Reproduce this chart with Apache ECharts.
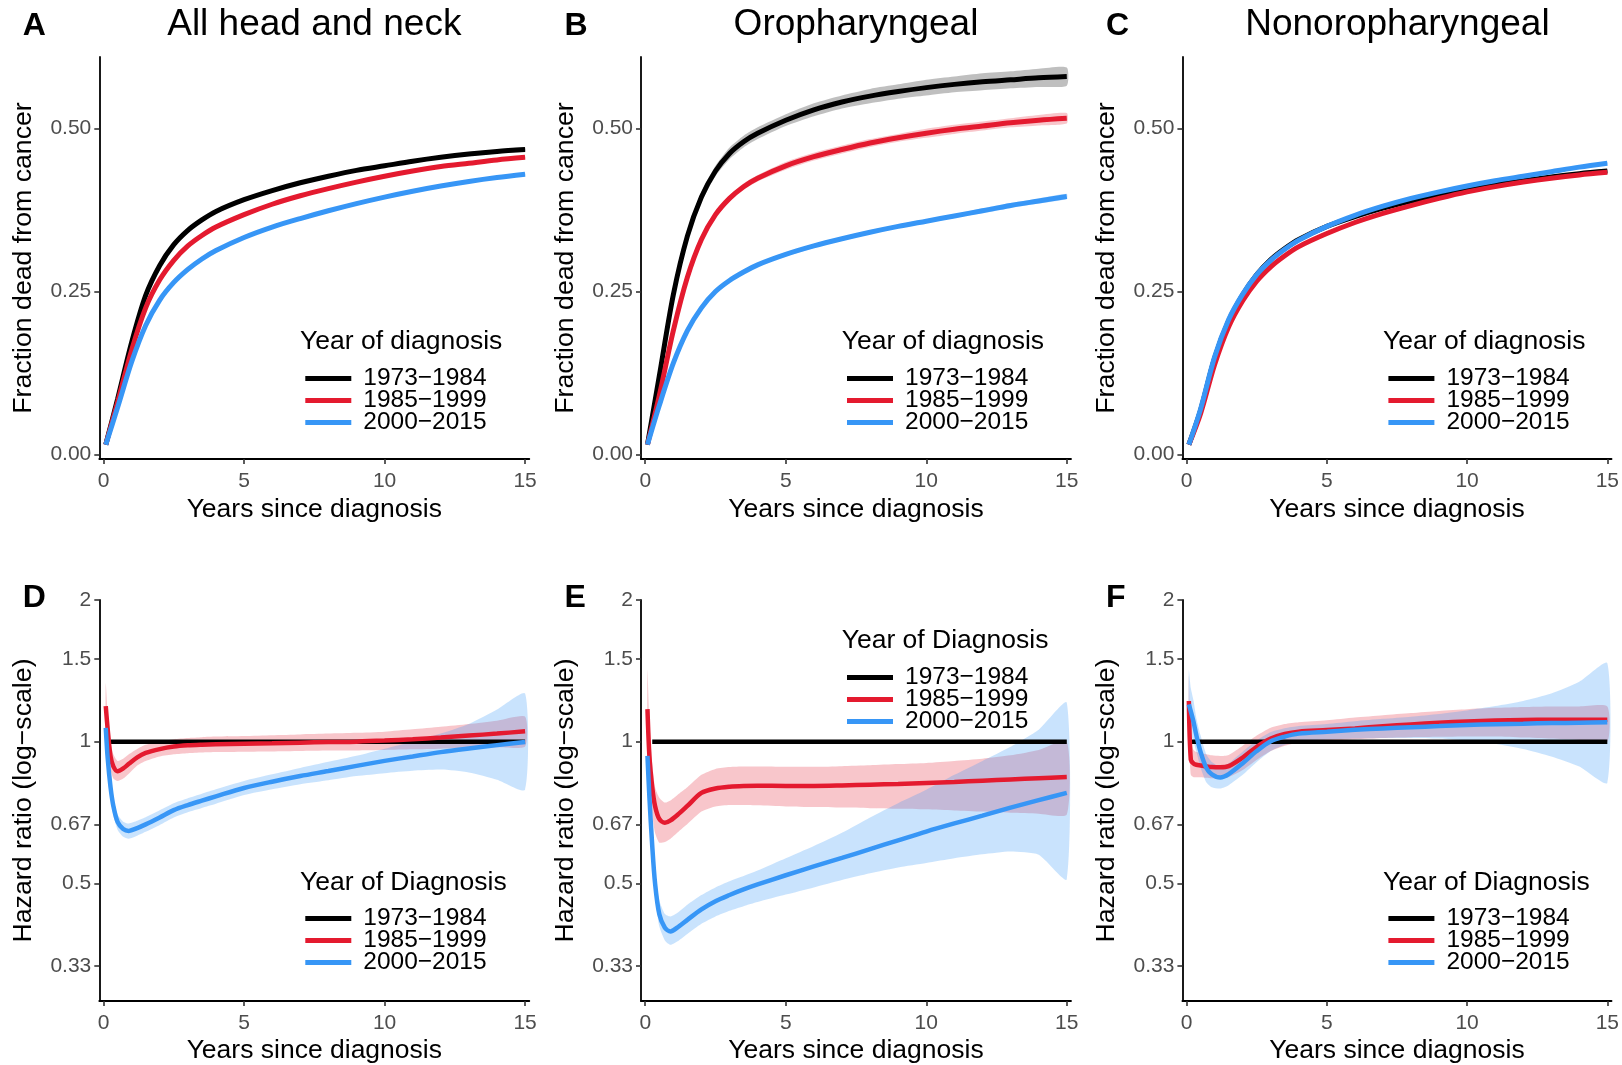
<!DOCTYPE html>
<html><head><meta charset="utf-8">
<script src="https://cdn.jsdelivr.net/npm/echarts@6/dist/echarts.min.js"></script>
<style>html,body{margin:0;padding:0;background:#fff}#c{width:1622px;height:1065px}</style>
</head><body><div id="c"></div>
<script>
// ---------- data ----------
const GROUPS = ['1973\u22121984', '1985\u22121999', '2000\u22122015'];
const COLORS = ['#000000', '#E41A2F', '#3796F6'];
const BAND_COLORS = ['rgba(0,0,0,0.25)', 'rgba(228,26,47,0.25)', 'rgba(55,150,246,0.27)'];

const X_TICKS = [0, 5, 10, 15];
const FRAC_TICKS = [0, 0.25, 0.5];
const HR_TICKS = [1/3, 0.5, 2/3, 1, 1.5, 2];
const HR_TICK_LABELS = ['0.33', '0.5', '0.67', '1', '1.5', '2'];

// top row: fraction dead from cancer
const TOP_X = [0.08, 0.5, 1, 1.5, 2, 2.5, 3, 3.5, 4, 5, 6, 7, 8, 9, 10, 11, 12, 13, 14, 15];

const A_1973 = [0.015, 0.085, 0.172, 0.244, 0.290, 0.322, 0.344, 0.360, 0.373, 0.391, 0.405, 0.417, 0.427, 0.436, 0.443, 0.450, 0.456, 0.461, 0.465, 0.468];
const A_1985 = [0.015, 0.080, 0.160, 0.225, 0.268, 0.298, 0.320, 0.336, 0.349, 0.368, 0.384, 0.397, 0.408, 0.418, 0.427, 0.435, 0.442, 0.447, 0.452, 0.456];
const A_2000 = [0.015, 0.072, 0.142, 0.198, 0.237, 0.264, 0.284, 0.300, 0.313, 0.333, 0.349, 0.362, 0.374, 0.385, 0.395, 0.404, 0.412, 0.419, 0.425, 0.430];
const A_1973_HW = [0.001, 0.002, 0.002, 0.002, 0.002, 0.002, 0.002, 0.002, 0.002, 0.002, 0.002, 0.002, 0.002, 0.002, 0.002, 0.0025, 0.0025, 0.003, 0.003, 0.003];
const A_1985_HW = [0.001, 0.0015, 0.0015, 0.0015, 0.0015, 0.0015, 0.0015, 0.0015, 0.0015, 0.0015, 0.0015, 0.0015, 0.0015, 0.002, 0.002, 0.002, 0.002, 0.002, 0.002, 0.002];
const A_2000_HW = [0.001, 0.0015, 0.0015, 0.0015, 0.0015, 0.0015, 0.0015, 0.0015, 0.0015, 0.0015, 0.0015, 0.0015, 0.0015, 0.0015, 0.0015, 0.0015, 0.002, 0.002, 0.002, 0.002];

const B_1973 = [0.015, 0.120, 0.245, 0.335, 0.395, 0.435, 0.462, 0.480, 0.493, 0.513, 0.529, 0.541, 0.550, 0.557, 0.563, 0.568, 0.572, 0.575, 0.578, 0.580];
const B_1985 = [0.015, 0.090, 0.190, 0.272, 0.330, 0.368, 0.393, 0.411, 0.424, 0.443, 0.457, 0.468, 0.478, 0.486, 0.493, 0.499, 0.504, 0.509, 0.513, 0.516];
const B_2000 = [0.015, 0.075, 0.140, 0.190, 0.225, 0.250, 0.267, 0.280, 0.291, 0.307, 0.320, 0.331, 0.341, 0.350, 0.358, 0.366, 0.374, 0.382, 0.389, 0.396];
const B_1973_HW = [0.001, 0.005, 0.007, 0.008, 0.008, 0.008, 0.009, 0.009, 0.009, 0.009, 0.010, 0.010, 0.011, 0.011, 0.012, 0.012, 0.013, 0.013, 0.014, 0.014];
const B_1985_HW = [0.001, 0.003, 0.004, 0.005, 0.005, 0.005, 0.005, 0.005, 0.005, 0.006, 0.006, 0.006, 0.006, 0.006, 0.007, 0.007, 0.007, 0.007, 0.008, 0.008];
const B_2000_HW = [0.001, 0.002, 0.002, 0.002, 0.002, 0.002, 0.002, 0.002, 0.003, 0.003, 0.003, 0.003, 0.003, 0.003, 0.003, 0.003, 0.004, 0.004, 0.004, 0.004];

const C_1973 = [0.015, 0.068, 0.148, 0.205, 0.245, 0.276, 0.299, 0.316, 0.330, 0.350, 0.365, 0.378, 0.389, 0.399, 0.407, 0.414, 0.420, 0.426, 0.431, 0.435];
const C_1985 = [0.015, 0.063, 0.138, 0.196, 0.236, 0.266, 0.288, 0.305, 0.319, 0.339, 0.356, 0.370, 0.382, 0.393, 0.403, 0.411, 0.418, 0.424, 0.429, 0.433];
const C_2000 = [0.015, 0.070, 0.150, 0.207, 0.246, 0.276, 0.298, 0.315, 0.329, 0.350, 0.367, 0.381, 0.393, 0.403, 0.412, 0.420, 0.427, 0.434, 0.441, 0.447];
const C_1973_HW = [0.001, 0.002, 0.002, 0.002, 0.002, 0.002, 0.002, 0.002, 0.002, 0.002, 0.002, 0.002, 0.0025, 0.0025, 0.0025, 0.003, 0.003, 0.003, 0.003, 0.003];
const C_1985_HW = [0.001, 0.0015, 0.0015, 0.0015, 0.0015, 0.0015, 0.0015, 0.0015, 0.0015, 0.0015, 0.0015, 0.002, 0.002, 0.002, 0.002, 0.002, 0.002, 0.002, 0.002, 0.002];
const C_2000_HW = [0.001, 0.0015, 0.0015, 0.0015, 0.0015, 0.0015, 0.0015, 0.0015, 0.0015, 0.0015, 0.0015, 0.0015, 0.0015, 0.0015, 0.002, 0.002, 0.002, 0.002, 0.002, 0.002];

// bottom row: hazard ratios vs 1973-1984
const BOT_X = [0.08, 0.15, 0.25, 0.35, 0.5, 0.7, 0.9, 1.2, 1.5, 2, 2.5, 3, 3.5, 4, 5, 6, 7, 8, 9, 10, 11, 12, 13, 14, 15];
const REF_X_D = [0.25, 15];
const REF_X_E = [0.25, 15];
const REF_X_F = [0.1, 15];
const REF_HR = [1, 1];

const D_1985    = [1.19, 1.06, 0.93, 0.886, 0.865, 0.877, 0.897, 0.926, 0.946, 0.964, 0.976, 0.982, 0.985, 0.987, 0.990, 0.992, 0.995, 0.998, 1.000, 1.005, 1.012, 1.020, 1.030, 1.040, 1.052];
const D_1985_LO = [1.07, 0.98, 0.87, 0.835, 0.825, 0.835, 0.855, 0.890, 0.910, 0.930, 0.940, 0.945, 0.948, 0.950, 0.952, 0.953, 0.955, 0.957, 0.958, 0.960, 0.963, 0.966, 0.970, 0.973, 0.977];
const D_1985_HI = [1.33, 1.15, 1.00, 0.940, 0.910, 0.920, 0.940, 0.965, 0.985, 1.000, 1.012, 1.018, 1.022, 1.025, 1.028, 1.032, 1.036, 1.040, 1.044, 1.050, 1.062, 1.075, 1.090, 1.108, 1.130];
const D_2000    = [1.07, 0.92, 0.80, 0.730, 0.675, 0.652, 0.646, 0.655, 0.667, 0.690, 0.715, 0.733, 0.749, 0.765, 0.797, 0.822, 0.845, 0.866, 0.888, 0.910, 0.930, 0.950, 0.967, 0.983, 0.998];
const D_2000_LO = [1.00, 0.87, 0.76, 0.700, 0.650, 0.628, 0.622, 0.631, 0.643, 0.665, 0.690, 0.708, 0.723, 0.738, 0.770, 0.792, 0.812, 0.828, 0.845, 0.857, 0.867, 0.872, 0.860, 0.830, 0.790];
const D_2000_HI = [1.14, 0.97, 0.84, 0.760, 0.700, 0.676, 0.670, 0.679, 0.691, 0.715, 0.740, 0.758, 0.775, 0.792, 0.825, 0.852, 0.879, 0.906, 0.933, 0.966, 1.000, 1.040, 1.090, 1.170, 1.265];

const E_1985    = [1.172, 0.93, 0.80, 0.730, 0.685, 0.672, 0.680, 0.703, 0.730, 0.778, 0.795, 0.802, 0.805, 0.806, 0.805, 0.805, 0.807, 0.810, 0.813, 0.817, 0.821, 0.826, 0.831, 0.836, 0.841];
const E_1985_LO = [0.96, 0.82, 0.70, 0.640, 0.610, 0.612, 0.622, 0.645, 0.668, 0.710, 0.728, 0.733, 0.733, 0.732, 0.728, 0.726, 0.724, 0.722, 0.720, 0.718, 0.714, 0.710, 0.706, 0.703, 0.700];
const E_1985_HI = [1.42, 1.10, 0.90, 0.800, 0.760, 0.742, 0.750, 0.775, 0.800, 0.850, 0.875, 0.883, 0.885, 0.885, 0.884, 0.884, 0.887, 0.891, 0.896, 0.901, 0.910, 0.920, 0.935, 0.960, 1.000];
const E_2000    = [0.933, 0.76, 0.60, 0.500, 0.430, 0.402, 0.395, 0.405, 0.418, 0.440, 0.458, 0.472, 0.485, 0.497, 0.520, 0.543, 0.566, 0.591, 0.617, 0.644, 0.670, 0.696, 0.724, 0.751, 0.778];
const E_2000_LO = [0.87, 0.70, 0.56, 0.470, 0.405, 0.378, 0.370, 0.378, 0.390, 0.410, 0.425, 0.437, 0.447, 0.456, 0.473, 0.490, 0.508, 0.525, 0.540, 0.552, 0.565, 0.576, 0.584, 0.575, 0.510];
const E_2000_HI = [1.00, 0.83, 0.65, 0.535, 0.460, 0.430, 0.425, 0.435, 0.450, 0.472, 0.490, 0.505, 0.518, 0.532, 0.565, 0.600, 0.640, 0.690, 0.740, 0.790, 0.850, 0.910, 0.975, 1.060, 1.210];

const F_1985    = [1.22, 0.915, 0.898, 0.893, 0.890, 0.886, 0.883, 0.882, 0.887, 0.925, 0.975, 1.015, 1.038, 1.050, 1.058, 1.067, 1.078, 1.088, 1.097, 1.104, 1.109, 1.112, 1.113, 1.113, 1.113];
const F_1985_LO = [1.05, 0.850, 0.840, 0.840, 0.840, 0.838, 0.836, 0.835, 0.840, 0.870, 0.915, 0.955, 0.980, 0.995, 1.005, 1.012, 1.018, 1.022, 1.024, 1.026, 1.025, 1.020, 1.015, 1.008, 1.000];
const F_1985_HI = [1.38, 1.000, 0.960, 0.950, 0.945, 0.940, 0.935, 0.932, 0.937, 0.980, 1.030, 1.070, 1.090, 1.100, 1.110, 1.125, 1.138, 1.150, 1.162, 1.172, 1.180, 1.185, 1.188, 1.188, 1.188];
const F_2000    = [1.20, 1.16, 1.10, 1.030, 0.950, 0.880, 0.852, 0.839, 0.853, 0.900, 0.955, 1.002, 1.025, 1.040, 1.050, 1.060, 1.067, 1.073, 1.079, 1.085, 1.089, 1.092, 1.095, 1.097, 1.099];
const F_2000_LO = [1.00, 1.03, 1.00, 0.950, 0.880, 0.820, 0.800, 0.795, 0.808, 0.850, 0.905, 0.955, 0.985, 1.000, 1.010, 1.015, 1.018, 1.018, 1.015, 1.005, 0.990, 0.965, 0.930, 0.885, 0.817];
const F_2000_HI = [1.42, 1.30, 1.22, 1.120, 1.030, 0.940, 0.905, 0.885, 0.900, 0.952, 1.005, 1.048, 1.068, 1.080, 1.090, 1.105, 1.118, 1.130, 1.145, 1.165, 1.190, 1.220, 1.265, 1.340, 1.468];

const TOP_TITLES = ['All head and neck', 'Oropharyngeal', 'Nonoropharyngeal'];
const LETTERS = ['A', 'B', 'C', 'D', 'E', 'F'];

// ---------- layout ----------
const FONT = '"Liberation Sans", Arial, Helvetica, sans-serif';
const GRID_LEFTS = [99.3, 641, 1182.4];
const GRID_W = 430;
const TOP_T = 57, TOP_H = 402, BOT_T = 600, BOT_H = 403;
// [legend title centre y, first legend row centre y]
const LEG_TOP = [[342, 377.6], [342, 377.6], [342, 377.6], [883, 917.5], [641, 676.5], [883, 917.5]];
const LEG_FONT = 24.5;

const topPanels = [
  {vals: [A_1973, A_1985, A_2000], hw: [A_1973_HW, A_1985_HW, A_2000_HW]},
  {vals: [B_1973, B_1985, B_2000], hw: [B_1973_HW, B_1985_HW, B_2000_HW]},
  {vals: [C_1973, C_1985, C_2000], hw: [C_1973_HW, C_1985_HW, C_2000_HW]}
];
const botPanels = [
  {refX: REF_X_D, vals: [D_1985, D_2000], lo: [D_1985_LO, D_2000_LO], hi: [D_1985_HI, D_2000_HI]},
  {refX: REF_X_E, vals: [E_1985, E_2000], lo: [E_1985_LO, E_2000_LO], hi: [E_1985_HI, E_2000_HI]},
  {refX: REF_X_F, vals: [F_1985, F_2000], lo: [F_1985_LO, F_2000_LO], hi: [F_1985_HI, F_2000_HI]}
];

function bandSeries(idx, xs, lo, hi, fill) {
  return {
    type: 'custom', xAxisIndex: idx, yAxisIndex: idx, z: 1, silent: true,
    data: [[xs[0], lo[0]]],
    renderItem: function (params, api) {
      const pts = [];
      for (let i = 0; i < xs.length; i++) pts.push(api.coord([xs[i], hi[i]]));
      for (let i = xs.length - 1; i >= 0; i--) pts.push(api.coord([xs[i], lo[i]]));
      return {type: 'polygon', shape: {points: pts, smooth: 0.2}, style: {fill: fill, stroke: null}};
    }
  };
}
function lineSeries(idx, name, xs, ys, color, width) {
  return {
    type: 'line', name: name, xAxisIndex: idx, yAxisIndex: idx, z: 3,
    data: xs.map((x, k) => [x, ys[k]]),
    showSymbol: false, symbol: 'none', smooth: 0.3, color: color,
    lineStyle: {width: width, color: color}, emphasis: {disabled: true}
  };
}

const grids = [], xAxes = [], yAxes = [], series = [], legends = [], graphics = [];
for (let r = 0; r < 2; r++) {
  for (let c = 0; c < 3; c++) {
    const idx = r * 3 + c;
    grids.push({left: GRID_LEFTS[c], width: GRID_W, top: r ? BOT_T : TOP_T, height: r ? BOT_H : TOP_H});
    xAxes.push({
      type: 'value', gridIndex: idx, min: -0.15, max: 15.15,
      name: 'Years since diagnosis', nameLocation: 'middle', nameGap: r ? 36 : 37,
      nameTextStyle: {fontSize: 26.5, color: '#000', fontFamily: FONT},
      axisLine: {show: true, onZero: false, lineStyle: {color: '#000', width: 1.8}},
      axisTick: {show: true, customValues: X_TICKS, length: 5, lineStyle: {color: '#333', width: 1.6}},
      axisLabel: {customValues: X_TICKS, fontSize: 21, color: '#4D4D4D', margin: 12, fontFamily: FONT},
      splitLine: {show: false}
    });
    if (r === 0) {
      yAxes.push({
        type: 'value', gridIndex: idx, min: -0.007, max: 0.61,
        name: 'Fraction dead from cancer', nameLocation: 'middle', nameGap: 62,
        nameTextStyle: {fontSize: 26.7, color: '#000', fontFamily: FONT},
        axisLine: {show: true, onZero: false, lineStyle: {color: '#000', width: 1.8}},
        axisTick: {show: true, customValues: FRAC_TICKS, length: 5, lineStyle: {color: '#333', width: 1.6}},
        axisLabel: {customValues: FRAC_TICKS, fontSize: 21, color: '#4D4D4D', margin: 8, fontFamily: FONT,
          formatter: v => Number(v).toFixed(2)},
        splitLine: {show: false}
      });
    } else {
      yAxes.push({
        type: 'log', logBase: 10, gridIndex: idx, min: 0.281, max: 2.0,
        name: 'Hazard ratio (log\u2212scale)', nameLocation: 'middle', nameGap: 62,
        nameTextStyle: {fontSize: 26.7, color: '#000', fontFamily: FONT},
        axisLine: {show: true, onZero: false, lineStyle: {color: '#000', width: 1.8}},
        axisTick: {show: true, customValues: HR_TICKS, length: 5, lineStyle: {color: '#333', width: 1.6}},
        axisLabel: {customValues: HR_TICKS, fontSize: 21, color: '#4D4D4D', margin: 8, fontFamily: FONT,
          formatter: function (v) {
            let best = 0;
            for (let i = 1; i < HR_TICKS.length; i++) if (Math.abs(HR_TICKS[i] - v) < Math.abs(HR_TICKS[best] - v)) best = i;
            return HR_TICK_LABELS[best];
          }},
        splitLine: {show: false}
      });
    }

    if (r === 0) {
      const p = topPanels[c];
      for (let g = 0; g < 3; g++) {
        const lo = p.vals[g].map((v, k) => v - p.hw[g][k]);
        const hi = p.vals[g].map((v, k) => v + p.hw[g][k]);
        series.push(bandSeries(idx, TOP_X, lo, hi, BAND_COLORS[g]));
      }
      for (let g = 0; g < 3; g++) series.push(lineSeries(idx, GROUPS[g], TOP_X, p.vals[g], COLORS[g], 5));
    } else {
      const p = botPanels[c];
      for (let g = 0; g < 2; g++) series.push(bandSeries(idx, BOT_X, p.lo[g], p.hi[g], BAND_COLORS[g + 1]));
      series.push(lineSeries(idx, GROUPS[0], p.refX, REF_HR, COLORS[0], 4.5));
      for (let g = 0; g < 2; g++) series.push(lineSeries(idx, GROUPS[g + 1], BOT_X, p.vals[g], COLORS[g + 1], 4.5));
    }

    const gl = GRID_LEFTS[c];
    legends.push({
      data: GROUPS, orient: 'vertical', left: gl + 206, top: LEG_TOP[idx][1] - 11.5, padding: 0,
      itemWidth: 46, itemHeight: 5, itemGap: -3, icon: 'rect', selectedMode: false,
      textStyle: {fontSize: LEG_FONT, color: '#000', fontFamily: FONT, padding: [0, 0, 0, 7]}
    });
    graphics.push({
      type: 'text', x: gl + 200.7, y: LEG_TOP[idx][0],
      style: {text: r ? 'Year of Diagnosis' : 'Year of diagnosis', fontSize: 26.5, fontFamily: FONT, fill: '#000',
        textAlign: 'left', textVerticalAlign: 'middle', align: 'left', verticalAlign: 'middle'}
    });
    graphics.push({
      type: 'text', x: gl - 76.5, y: r ? 598 : 26,
      style: {text: LETTERS[idx], fontSize: 32, fontWeight: 'bold', fontFamily: FONT, fill: '#000',
        textAlign: 'left', textVerticalAlign: 'middle', align: 'left', verticalAlign: 'middle'}
    });
    if (r === 0) {
      graphics.push({
        type: 'text', x: gl + GRID_W / 2, y: 25,
        style: {text: TOP_TITLES[c], fontSize: 37, fontFamily: FONT, fill: '#000',
          textAlign: 'center', textVerticalAlign: 'middle', align: 'center', verticalAlign: 'middle'}
      });
    }
  }
}

const chart = echarts.init(document.getElementById('c'), null, {renderer: 'canvas'});
chart.setOption({
  backgroundColor: '#fff', animation: false,
  grid: grids, xAxis: xAxes, yAxis: yAxes, series: series, legend: legends,
  graphic: {elements: graphics}, tooltip: {show: false}
});
</script></body></html>
